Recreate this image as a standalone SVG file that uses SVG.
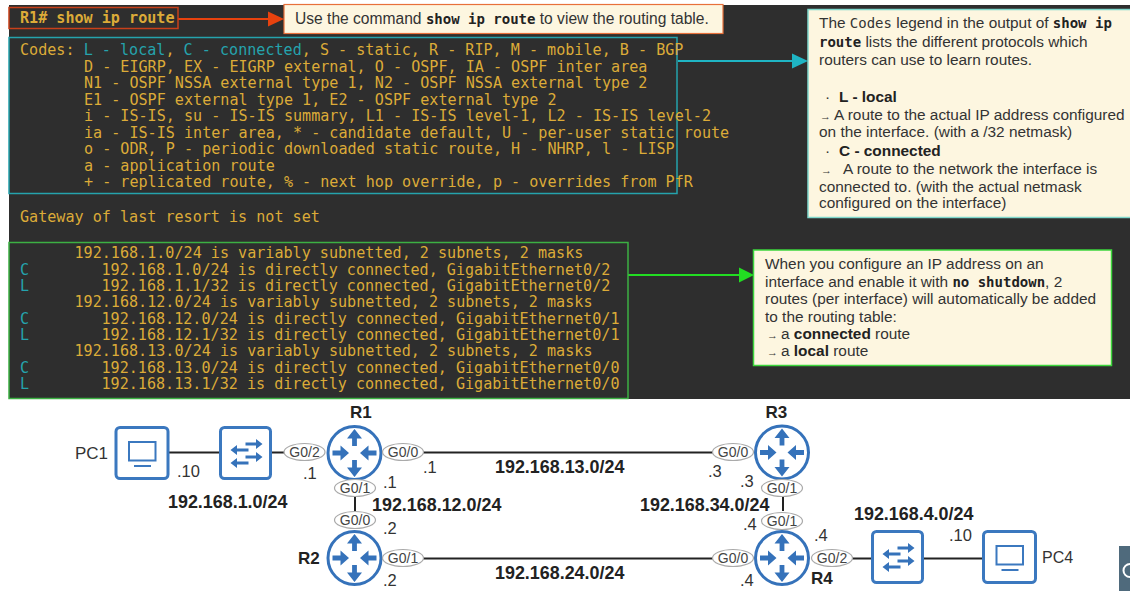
<svg xmlns="http://www.w3.org/2000/svg" width="1130" height="591" viewBox="0 0 1130 591">
<defs>
<style>
.m{font-family:"DejaVu Sans Mono","Liberation Mono",monospace;font-size:15.1px;fill:#dcab38;white-space:pre}
.t{fill:#25a3ad}
.s{font-family:"Liberation Sans",Arial,sans-serif;font-size:15.4px;fill:#333}
.c{font-family:"DejaVu Sans Mono","Liberation Mono",monospace;font-weight:700;font-size:14px;fill:#222}
.q{font-family:"DejaVu Sans Mono","Liberation Mono",monospace;font-size:14px}
.w{font-size:11px}
.b{font-weight:700;fill:#222}
.n{font-family:"Liberation Sans",Arial,sans-serif;font-size:17px;fill:#333}
.nb{font-family:"Liberation Sans",Arial,sans-serif;font-size:17px;font-weight:700;fill:#222}
.net{font-family:"Liberation Sans",Arial,sans-serif;font-size:17.9px;font-weight:700;fill:#222}
.ip{font-family:"Liberation Sans",Arial,sans-serif;font-size:16.5px;fill:#333}
.if{font-family:"Liberation Sans",Arial,sans-serif;font-size:14px;fill:#444;text-anchor:middle}
.e{fill:#fff;stroke:#aaa;stroke-width:1.2}
.l{stroke:#222;stroke-width:2;fill:none}
.r{fill:#fff;stroke:#3572ba;stroke-width:3}
.f{fill:#3572ba}
.sw{fill:#fff;stroke:#3b78bf;stroke-width:3}
</style>
<g id="rt">
<circle r="26.500" class="r"/>
<path class="f" d="M-2.400-7V-14.500H-7.500L0-24L7.500-14.500H2.400V-7ZM-2.400 7V14.500H-7.500L0 24L7.500 14.500H2.400V7ZM-22-2.400H-14V-7.500L-5.500 0L-14 7.500V2.400H-22ZM22-2.400H14V-7.500L5.500 0L14 7.500V2.400H22Z"/>
</g>
<g id="swi">
<rect x="-25" y="-25.500" width="50" height="51" rx="4" class="sw"/>
<path class="f" d="M0-10.400H10.500V-14L17-9L10.500-4V-7.600H0ZM3-4.400H-8.500V-8L-15-3L-8.500 2V-1.600H3ZM0 2.600H10.500V-1L17 4L10.500 9V5.400H0ZM3 8.600H-8.500V5L-15 10L-8.500 15V11.400H3Z"/>
</g>
<g id="pc">
<rect x="-26" y="-25.500" width="52" height="51" rx="4" class="sw"/>
<rect x="-13" y="-11" width="26.500" height="18.500" fill="none" stroke="#3b78bf" stroke-width="2"/>
<path d="M-8 13H9" stroke="#3b78bf" stroke-width="2"/>
</g>
</defs>
<rect width="1130" height="591" fill="#fff"/>
<rect id="console" x="9" y="5" width="1121" height="394" fill="#2e2e2e"/>

<g id="connectors">
<path d="M169 452.500H219M271 452.500H285M386 452.500H713M355 497V511M783 497V511M378 558.500H713M812 558.500H871M923 558.500H983" class="l"/>
<path d="M178 19H270" stroke="#e8420e" stroke-width="2" fill="none"/>
<path d="M268 11.500L284 19L268 26.500Z" fill="#e8420e"/>
<path d="M678 61H795" stroke="#1fb5c4" stroke-width="2" fill="none"/>
<path d="M792 53.500L808 61L792 68.500Z" fill="#1fb5c4"/>
<path d="M628 275H741" stroke="#22dd22" stroke-width="2" fill="none"/>
<path d="M739 267.500L754 275L739 282.500Z" fill="#22dd22"/>
</g>

<g id="cmd">
<rect x="9" y="7.500" width="169" height="21" fill="none" stroke="#c8401a" stroke-width="1.500"/>
<text x="20" y="23" class="m" style="font-weight:700">R1# show ip route</text>
</g>
<g id="cmd-note">
<rect x="284" y="4.500" width="439" height="29" fill="#fdf6e0" stroke="#e8703a" stroke-width="1.200"/>
<text x="295" y="24" class="s" style="font-size:15.600px">Use the command <tspan class="c">show ip route</tspan> to view the routing table.</text>
</g>

<g id="codes">
<rect x="9" y="37.500" width="668" height="156" fill="none" stroke="#25a3ad" stroke-width="1.500"/>
<text class="m" x="20" y="55">Codes: <tspan class="t">L - local</tspan>, <tspan class="t">C - connected</tspan>, S - static, R - RIP, M - mobile, B - BGP</text>
<text class="m" x="84" y="71.500">D - EIGRP, EX - EIGRP external, O - OSPF, IA - OSPF inter area</text>
<text class="m" x="84" y="88">N1 - OSPF NSSA external type 1, N2 - OSPF NSSA external type 2</text>
<text class="m" x="84" y="104.500">E1 - OSPF external type 1, E2 - OSPF external type 2</text>
<text class="m" x="84" y="121">i - IS-IS, su - IS-IS summary, L1 - IS-IS level-1, L2 - IS-IS level-2</text>
<text class="m" x="84" y="137.500">ia - IS-IS inter area, * - candidate default, U - per-user static route</text>
<text class="m" x="84" y="154">o - ODR, P - periodic downloaded static route, H - NHRP, l - LISP</text>
<text class="m" x="84" y="170.500">a - application route</text>
<text class="m" x="84" y="187">+ - replicated route, % - next hop override, p - overrides from PfR</text>
</g>
<text id="gateway" class="m" x="20" y="222">Gateway of last resort is not set</text>

<g id="routes">
<rect x="9" y="242.500" width="619" height="156" fill="none" stroke="#3cb043" stroke-width="1.500"/>
<text class="m" x="74.500" y="258">192.168.1.0/24 is variably subnetted, 2 subnets, 2 masks</text>
<text class="m t" x="20" y="274.500">C</text><text class="m" x="101.500" y="274.500">192.168.1.0/24 is directly connected, GigabitEthernet0/2</text>
<text class="m t" x="20" y="291">L</text><text class="m" x="101.500" y="291">192.168.1.1/32 is directly connected, GigabitEthernet0/2</text>
<text class="m" x="74.500" y="307">192.168.12.0/24 is variably subnetted, 2 subnets, 2 masks</text>
<text class="m t" x="20" y="323.500">C</text><text class="m" x="101.500" y="323.500">192.168.12.0/24 is directly connected, GigabitEthernet0/1</text>
<text class="m t" x="20" y="340">L</text><text class="m" x="101.500" y="340">192.168.12.1/32 is directly connected, GigabitEthernet0/1</text>
<text class="m" x="74.500" y="356">192.168.13.0/24 is variably subnetted, 2 subnets, 2 masks</text>
<text class="m t" x="20" y="372.500">C</text><text class="m" x="101.500" y="372.500">192.168.13.0/24 is directly connected, GigabitEthernet0/0</text>
<text class="m t" x="20" y="389">L</text><text class="m" x="101.500" y="389">192.168.13.1/32 is directly connected, GigabitEthernet0/0</text>
</g>

<g id="codes-note">
<rect x="808" y="9.500" width="323" height="208" fill="#fdf6e0" stroke="#7fd8cc" stroke-width="1.500"/>
<text class="s" x="819" y="28">The <tspan class="q">Codes</tspan> legend in the output of <tspan class="c">show ip</tspan></text>
<text class="s" x="819" y="47"><tspan class="c">route</tspan> lists the different protocols which</text>
<text class="s" x="819" y="65">routers can use to learn routes.</text>
<text class="s" x="825" y="102">· <tspan class="b" x="839">L - local</tspan></text>
<text class="s" x="820" y="120"><tspan class="w">→</tspan><tspan x="834">A route to the actual IP address configured</tspan></text>
<text class="s" x="819" y="137">on the interface. (with a /32 netmask)</text>
<text class="s" x="825" y="156">· <tspan class="b" x="839">C - connected</tspan></text>
<text class="s" x="821" y="174"><tspan class="w">→</tspan><tspan x="843">A route to the network the interface is</tspan></text>
<text class="s" x="819" y="192">connected to. (with the actual netmask</text>
<text class="s" x="819" y="208">configured on the interface)</text>
</g>

<g id="routes-note">
<rect x="753.500" y="250" width="358" height="115.500" fill="#fdf6e0" stroke="#3cd63c" stroke-width="1.500"/>
<text class="s" x="765" y="269">When you configure an IP address on an</text>
<text class="s" x="765" y="287">interface and enable it with <tspan class="c">no shutdown</tspan>, 2</text>
<text class="s" x="765" y="304">routes (per interface) will automatically be added</text>
<text class="s" x="765" y="322">to the routing table:</text>
<text class="s" x="767" y="339"><tspan class="w">→</tspan><tspan x="781">a </tspan><tspan class="b">connected</tspan> route</text>
<text class="s" x="767" y="356"><tspan class="w">→</tspan><tspan x="781">a </tspan><tspan class="b">local</tspan> route</text>
</g>

<g id="PC1"><use href="#pc" x="142" y="453"/><text class="n" x="75" y="459">PC1</text></g>
<g id="SW1"><use href="#swi" x="245.500" y="453"/></g>
<g id="R1"><use href="#rt" x="354.500" y="453"/><text class="nb" x="350" y="418">R1</text></g>
<g id="R2"><use href="#rt" x="354.500" y="558"/><text class="nb" x="298" y="564">R2</text></g>
<g id="R3"><use href="#rt" x="782" y="452.500"/><text class="nb" x="765.500" y="418">R3</text></g>
<g id="R4"><use href="#rt" x="782" y="558"/><text class="nb" x="811" y="584">R4</text></g>
<g id="SW4"><use href="#swi" x="897.500" y="557"/></g>
<g id="PC4"><use href="#pc" x="1009.500" y="557"/><text class="n" x="1042" y="563" style="font-size:16px">PC4</text></g>

<g id="interfaces">
<ellipse class="e" cx="304.500" cy="452" rx="20.500" ry="8.500"/><text class="if" x="304.500" y="457">G0/2</text>
<ellipse class="e" cx="403" cy="452" rx="20.500" ry="8.500"/><text class="if" x="403" y="457">G0/0</text>
<ellipse class="e" cx="355" cy="488" rx="20.500" ry="8.500"/><text class="if" x="355" y="493">G0/1</text>
<ellipse class="e" cx="355" cy="520" rx="20.500" ry="8.500"/><text class="if" x="355" y="525">G0/0</text>
<ellipse class="e" cx="403" cy="558" rx="20.500" ry="8.500"/><text class="if" x="403" y="563">G0/1</text>
<ellipse class="e" cx="733" cy="452" rx="20.500" ry="8.500"/><text class="if" x="733" y="457">G0/0</text>
<ellipse class="e" cx="782" cy="488" rx="20.500" ry="8.500"/><text class="if" x="782" y="493">G0/1</text>
<ellipse class="e" cx="782" cy="521" rx="20.500" ry="8.500"/><text class="if" x="782" y="526">G0/1</text>
<ellipse class="e" cx="733" cy="558" rx="20.500" ry="8.500"/><text class="if" x="733" y="563">G0/0</text>
<ellipse class="e" cx="832" cy="558" rx="20.500" ry="8.500"/><text class="if" x="832" y="563">G0/2</text>
</g>

<g id="labels">
<text class="ip" x="177" y="477">.10</text>
<text class="ip" x="303" y="479">.1</text>
<text class="ip" x="383" y="488">.1</text>
<text class="ip" x="423" y="473">.1</text>
<text class="ip" x="383" y="534">.2</text>
<text class="ip" x="383" y="586">.2</text>
<text class="ip" x="708" y="477">.3</text>
<text class="ip" x="740" y="487">.3</text>
<text class="ip" x="743" y="530">.4</text>
<text class="ip" x="814" y="541">.4</text>
<text class="ip" x="740" y="586">.4</text>
<text class="ip" x="949" y="541">.10</text>
<text class="net" x="168" y="508">192.168.1.0/24</text>
<text class="net" x="372" y="511">192.168.12.0/24</text>
<text class="net" x="495" y="473">192.168.13.0/24</text>
<text class="net" x="640" y="511">192.168.34.0/24</text>
<text class="net" x="495" y="579">192.168.24.0/24</text>
<text class="net" x="854" y="520">192.168.4.0/24</text>
</g>

<g id="corner">
<rect x="1119" y="546" width="11" height="45" fill="#4f6a7c"/>
<path d="M1130 564A6.500 6.500 0 0 0 1130 577" fill="none" stroke="#fff" stroke-width="2"/>
</g>
</svg>
